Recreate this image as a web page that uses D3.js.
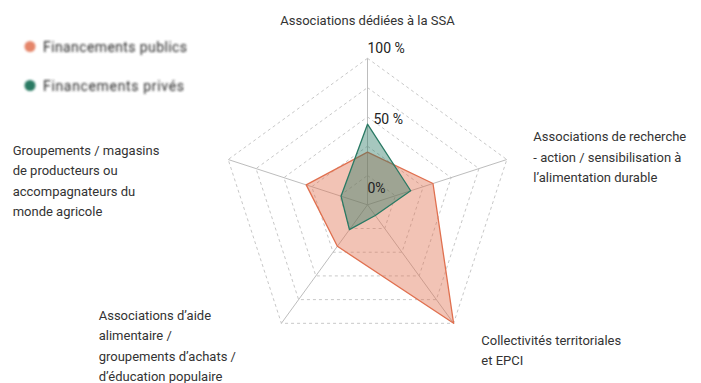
<!DOCTYPE html>
<html>
<head>
<meta charset="utf-8">
<script src="https://cdn.jsdelivr.net/npm/d3@7"></script>
<style>
  html, body { margin: 0; padding: 0; background: #fff; }
  svg { display: block; font-family: Roboto, "Noto Sans", sans-serif; }
</style>
</head>
<body>
<svg id="chart" width="701" height="383"></svg>
<script>
// Axes of the radar, clockwise from the top
const categories = [
  ["Associations dédiées à la SSA"],
  ["Associations de recherche", "- action / sensibilisation à", "l’alimentation durable"],
  ["Collectivités territoriales", "et EPCI"],
  ["Associations d’aide", "alimentaire /", "groupements d’achats /", "d’éducation populaire"],
  ["Groupements / magasins", "de producteurs ou", "accompagnateurs du", "monde agricole"]
];
const seriesNames = ["Financements publics", "Financements privés"];
const publicValues = [36, 47, 100, 35, 44];
const privateValues = [55, 31, 9, 21, 19];
const gridLevels = [20, 40, 60, 80, 100];
const tickValues = [0, 50, 100];
const tickLabels = ["0%", "50 %", "100 %"];

const colors = { pub: "#e0704f", priv: "#2a7a64" };

const svg = d3.select("#chart");
const cx = 367.5, cy = 204.8, R = 146.5;
const n = categories.length;

const r = d3.scaleLinear().domain([0, 100]).range([0, R]);
const angle = d3.scaleLinear().domain([0, n]).range([0, 2 * Math.PI]);
const pt = (i, v) => [cx + r(v) * Math.sin(angle(i)), cy - r(v) * Math.cos(angle(i))];

const g = svg.append("g");

// dashed pentagon rings
g.selectAll(".ring").data(gridLevels).join("polygon")
  .attr("points", lv => d3.range(n).map(i => pt(i, lv).join(",")).join(" "))
  .attr("fill", "none")
  .attr("stroke", "#c8c8c8")
  .attr("stroke-width", 1)
  .attr("stroke-dasharray", "3,3");

// spokes
g.selectAll(".spoke").data(d3.range(n)).join("line")
  .attr("x1", cx).attr("y1", cy)
  .attr("x2", i => pt(i, 100)[0]).attr("y2", i => pt(i, 100)[1])
  .attr("stroke", "#bdbdbd").attr("stroke-width", 1);

// series areas
const radial = d3.lineRadial()
  .angle((d, i) => angle(i))
  .radius(d => r(d))
  .curve(d3.curveLinearClosed);

[[publicValues, colors.pub], [privateValues, colors.priv]].forEach(([vals, col]) => {
  g.append("path")
    .attr("transform", `translate(${cx},${cy})`)
    .attr("d", radial(vals))
    .attr("fill", col)
    .attr("fill-opacity", 0.42)
    .attr("stroke", col)
    .attr("stroke-width", 1.3)
    .attr("stroke-linejoin", "round");
});

// radial tick labels
const tickShift = { 0: [0, -11.5], 50: [6, -7.5], 100: [0, -5] };
g.selectAll(".tick").data(tickValues).join("text")
  .attr("x", v => cx + tickShift[v][0])
  .attr("y", v => cy - r(v) + tickShift[v][1])
  .attr("font-size", 14)
  .attr("fill", "#222")
  .text((v, i) => tickLabels[i]);

// category labels placed around the outer vertices
const labelPlace = [
  { anchor: "middle", dx: 0, dy: -33 },
  { anchor: "start", dx: 26.5, dy: -18.5 },
  { anchor: "start", dx: 27.7, dy: 21.2 },
  { anchor: "start", dx: -182.7, dy: -3.8 },
  { anchor: "start", dx: -215.5, dy: -5 }
];
const lineH = 20.5;
categories.forEach((lines, i) => {
  const [vx, vy] = pt(i, 100);
  const p = labelPlace[i];
  const t = svg.append("text")
    .attr("text-anchor", p.anchor)
    .attr("font-size", 13)
    .attr("fill", "#333");
  lines.forEach((ln, k) => {
    t.append("tspan")
      .attr("x", vx + p.dx)
      .attr("y", vy + p.dy + k * lineH)
      .text(ln);
  });
});

// legend (soft-rendered)
const defs = svg.append("defs");
defs.append("filter").attr("id", "soft")
  .append("feGaussianBlur").attr("stdDeviation", 0.8);

const legend = svg.append("g").attr("filter", "url(#soft)");
const legendY = d3.scalePoint().domain(seriesNames).range([46.5, 85.5]);
const legendCol = [colors.pub, colors.priv];
seriesNames.forEach((name, i) => {
  const y = legendY(name);
  legend.append("circle")
    .attr("cx", 30).attr("cy", y).attr("r", 5.5)
    .attr("fill", legendCol[i])
    .attr("fill-opacity", i === 0 ? 0.85 : 1);
  legend.append("text")
    .attr("x", 43).attr("y", y + 5)
    .attr("font-size", 14)
    .attr("textLength", i === 0 ? 144 : 141)
    .attr("fill", "#2a2a2a")
    .text(name);
});
</script>
</body>
</html>
